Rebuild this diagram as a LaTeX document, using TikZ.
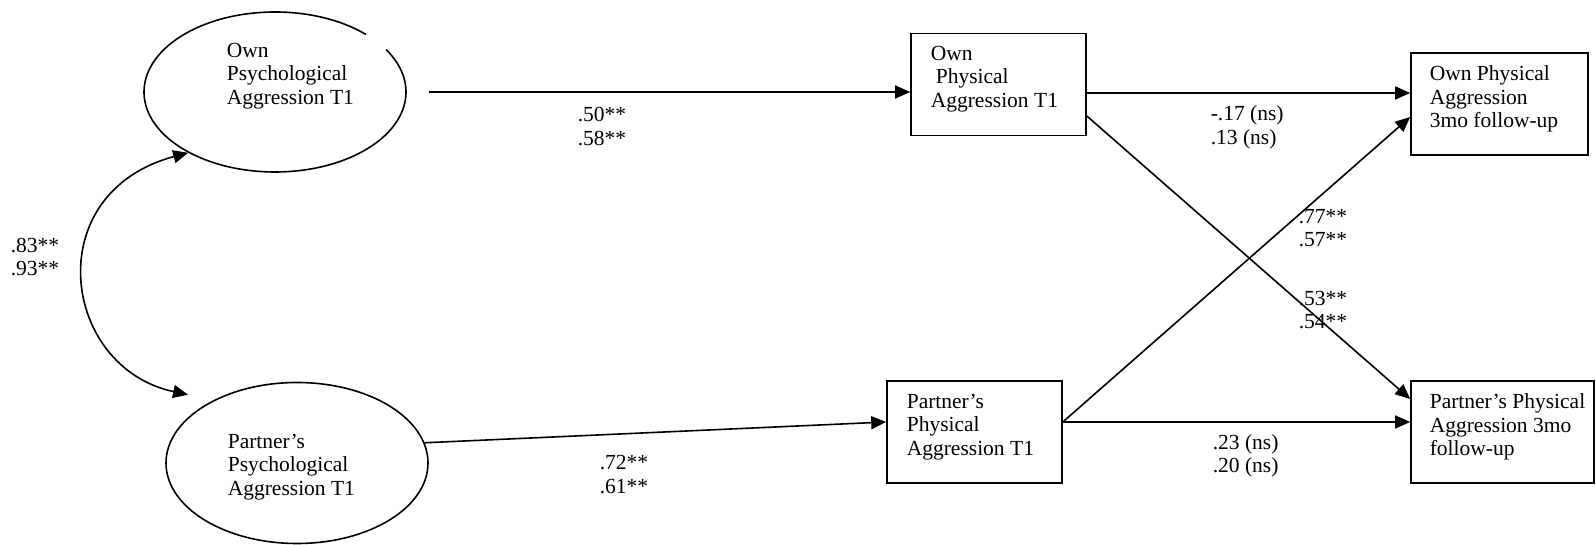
\documentclass[tikz,border=0pt]{standalone}
\usepackage{fontspec}
\setmainfont{Liberation Serif}
\usetikzlibrary{shapes.geometric,arrows.meta}
\tikzstyle{latent}=[shape=ellipse, minimum width=131pt, minimum height=80pt, inner sep=0, draw]
\tikzstyle{obs}=[shape=rectangle, minimum height=51pt, inner sep=0, draw]
\tikzstyle{txt}=[anchor=west, align=left, inner sep=0]
\tikzstyle{coef}=[anchor=west, align=left, inner sep=0]
\tikzstyle{eff}=[-{Triangle[length=7.5pt,width=6.5pt]}]
\tikzstyle{cov}=[{Triangle[length=7.5pt,width=6.5pt]}-{Triangle[length=7.5pt,width=6.5pt]}]

\begin{document}
\begin{tikzpicture}[x=0.5pt, y=0.5pt, line width=0.8pt, font=\fontsize{10.75}{11.75}\selectfont]
\useasboundingbox (0,0) rectangle (1596,545);
\draw (275,453) node[latent, draw=none](ownpsy) {};
\draw (ownpsy.center) ++(46:65.5pt and 40pt) arc[start angle=46, end angle=392, x radius=65.5pt, y radius=40pt];
\draw (297,82) node[latent, minimum height=80.5pt](partpsy) {};
\draw (226,469) node[txt](ownpsytxt) {Own\\Psychological\\Aggression T1};
\draw (227,78) node[txt](partpsytxt) {Partner’s\\Psychological\\Aggression T1};
\draw (998.5,460.5) node[obs, minimum width=87.5pt](ownphy) {};
\draw (1499.5,441) node[obs, minimum width=88.5pt](ownfu) {};
\draw (974.5,113) node[obs, minimum width=87.5pt](partphy) {};
\draw (1502.5,113) node[obs, minimum width=91.5pt](partfu) {};
\draw (930,466) node[txt](ownphytxt) {Own\\\hspace{2.5pt}Physical\\Aggression T1};
\draw (1429,446) node[txt](ownfutxt) {Own Physical\\Aggression\\3mo follow-up};
\draw (906,118) node[txt](partphytxt) {Partner’s\\Physical\\Aggression T1};
\draw (1429,118) node[txt](partfutxt) {Partner’s Physical\\Aggression 3mo\\follow-up};
\draw[eff] ([xshift=11pt]ownpsy.east) -- (ownpsy.east -| ownphy.west);
\draw[eff] (partpsy.9) -- ([yshift=5pt]partphy.west);
\draw[eff] ([yshift=-4.25pt]ownphy.east) -- ([yshift=-4.25pt]ownphy.east -| ownfu.west);
\draw[eff] ([yshift=-15.75pt]ownphy.east) -- ([yshift=16.5pt]partfu.west);
\draw[eff] ([yshift=5pt]partphy.east) -- ([yshift=-6.5pt]ownfu.west);
\draw[eff] ([yshift=5pt]partphy.east) -- ([yshift=5pt]partphy.east -| partfu.west);
\draw[cov, shorten >=13pt] (ownpsy.215) to[out=195, in=168, looseness=1.6] (partpsy.143);
\draw (577,418.5) node[coef](c1) {.50**\\.58**};
\draw (599,70.5) node[coef](c2) {.72**\\.61**};
\draw (1210,417.5) node[coef](c3) {-.17 (ns)\\.13 (ns)};
\draw (1212,89) node[coef](c4) {.23 (ns)\\.20 (ns)};
\draw (1298,317) node[coef](c5) {.77**\\.57**};
\draw (1298,235) node[coef](c6) {.53**\\.54**};
\draw (10,288) node[coef](c7) {.83**\\.93**};
\end{tikzpicture}
\end{document}
